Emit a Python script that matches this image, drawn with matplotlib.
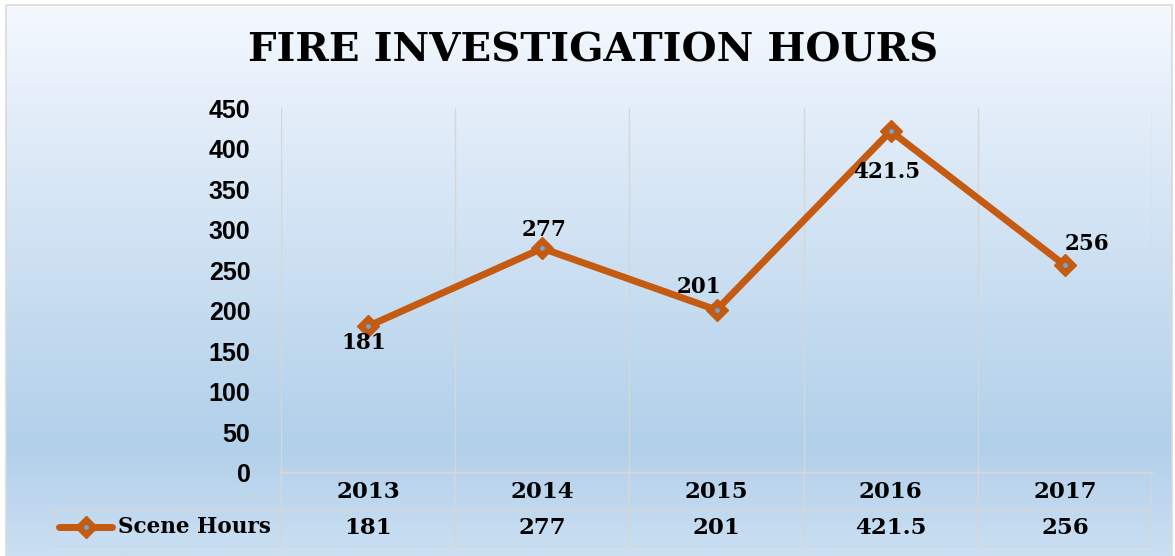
import matplotlib.pyplot as plt
import numpy as np
from matplotlib.patches import Rectangle
from matplotlib.lines import Line2D

years = ["2013", "2014", "2015", "2016", "2017"]
scene_hours = [181, 277, 201, 421.5, 256]
value_labels = ["181", "277", "201", "421.5", "256"]
yticks = [0, 50, 100, 150, 200, 250, 300, 350, 400, 450]

W, H = 1175, 556
fig = plt.figure(figsize=(W / 100, H / 100), dpi=100)

serif = "DejaVu Serif"
orange = "#c55a11"
grid_c = "#d6d6d6"

# background gradient inside the chart frame
bg = fig.add_axes([0, 0, 1, 1])
bg.set_xlim(0, W)
bg.set_ylim(H, 0)
bg.axis("off")
stops = np.array([0.0, 0.18, 0.80, 1.0])
cols = np.array([[245, 249, 254], [228, 238, 249], [177, 208, 234], [203, 223, 243]]) / 255
t = np.linspace(0, 1, 300)
grad = np.stack([np.interp(t, stops, cols[:, k]) for k in range(3)], axis=1)
bg.imshow(grad[:, None, :], extent=[6, 1172, 556, 5], aspect="auto", zorder=0)
bg.add_patch(Rectangle((6, 5), 1166, 560, fill=False, ec="#d9d9d9", lw=1.2, zorder=1))

# main plot
px = lambda x0, y0, x1, y1: [x0 / W, 1 - y1 / H, (x1 - x0) / W, (y1 - y0) / H]
ax = fig.add_axes(px(281, 108, 1152, 473))
ax.patch.set_alpha(0)
x = np.arange(len(years))
ax.set_xlim(-0.5, len(years) - 0.5)
ax.set_ylim(0, 450)
for b in np.arange(-0.5, len(years), 1.0):
    ax.axvline(b, color=grid_c, lw=1, zorder=1)
for s in ["top", "right", "left"]:
    ax.spines[s].set_visible(False)
ax.spines["bottom"].set_color(grid_c)
ax.spines["bottom"].set_linewidth(1.5)
ax.set_xticks([])
ax.set_yticks(yticks)
ax.tick_params(axis="y", length=0, pad=22)
for lab in ax.get_yticklabels():
    lab.set_fontfamily("Liberation Sans")
    lab.set_fontweight("bold")
    lab.set_fontsize(18)

ax.plot(x, scene_hours, color=orange, lw=5, marker="D", ms=11,
        mfc=orange, mec=orange, solid_joinstyle="round", zorder=3, clip_on=False)
ax.plot(x, scene_hours, ls="none", marker="o", ms=2.5, color="#6ea6d8", zorder=4, clip_on=False)

offsets = [(-4, -17), (2, 18), (-18, 23), (-4, -41), (22, 21)]
for xi, v, lab, (dx, dy) in zip(x, scene_hours, value_labels, offsets):
    ax.annotate(lab, (xi, v), xytext=(dx, dy), textcoords="offset pixels",
                ha="center", va="center", fontsize=15.5, fontweight="bold",
                fontfamily=serif, color="black", zorder=5)

# data table
cw = 871 / len(years)
tax = fig.add_axes(px(53, 473, 1152, 547))
tax.set_xlim(-0.5 - (281 - 53) / cw, len(years) - 0.5)
tax.set_ylim(0, 2)
tax.axis("off")
left = -0.5 - (281 - 53) / cw
for b in np.arange(-0.5, len(years), 1.0):
    tax.plot([b, b], [0, 2], color=grid_c, lw=1.2)
tax.plot([left, left], [0, 1], color=grid_c, lw=1.2)
tax.plot([left, len(years) - 0.5], [1, 1], color=grid_c, lw=1.2)
tax.plot([left, len(years) - 0.5], [0, 0], color=grid_c, lw=1.2)
for xi, yr, lab in zip(x, years, value_labels):
    tax.text(xi, 1.48, yr, ha="center", va="center", fontsize=16.5,
             fontweight="bold", fontfamily=serif)
    tax.text(xi, 0.5, lab, ha="center", va="center", fontsize=16.5,
             fontweight="bold", fontfamily=serif)

# legend key in the table
bg.add_line(Line2D([59, 112], [527, 527], color=orange, lw=5, solid_capstyle="round"))
bg.plot([86], [527], marker="D", ms=11, color=orange)
bg.plot([86], [527], marker="o", ms=2.5, color="#6ea6d8")
bg.text(118, 527, "Scene Hours", ha="left", va="center", fontsize=15.5,
        fontweight="bold", fontfamily=serif)

fig.text(593 / W, 1 - 50 / H, "FIRE INVESTIGATION HOURS", ha="center", va="center",
         fontsize=29, fontweight="bold", fontfamily=serif)

fig.savefig("out.png", dpi=100)
